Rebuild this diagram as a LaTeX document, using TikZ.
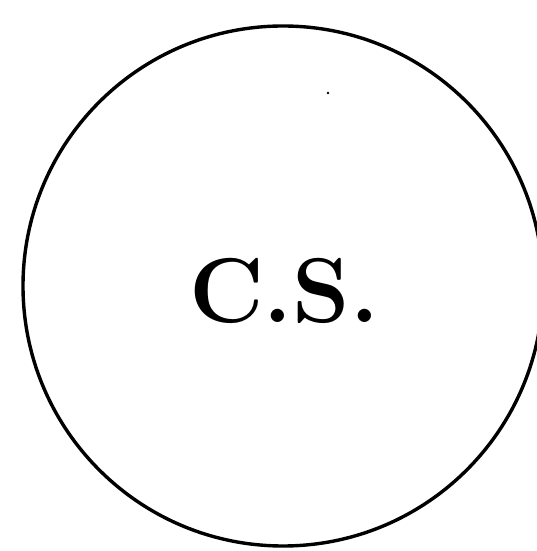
\documentclass[tikz,border=0pt]{standalone}
\begin{document}
\begin{tikzpicture}[x=1pt,y=1pt,
  outline/.style={draw=black,line width=3.4pt},
  label/.style={font=\fontsize{92}{92}\selectfont\bfseries,inner sep=0pt}]
\useasboundingbox (0,0) rectangle (536,551);
\node[outline,circle,minimum size=520pt,inner sep=0pt] (cs) at (283,265) {};
\node[label] (t) at (284,260) {C.S.};
\fill (328,458) circle (1.4pt);
\end{tikzpicture}
\end{document}
